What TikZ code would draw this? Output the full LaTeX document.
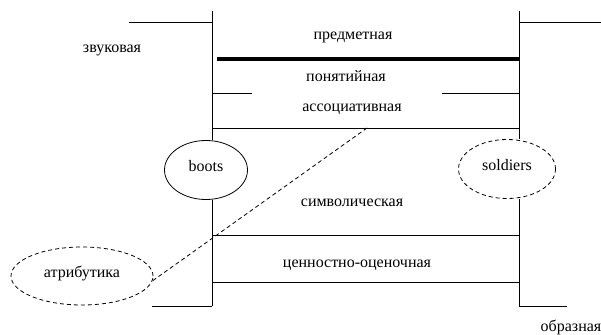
\documentclass[tikz,border=0pt]{standalone}
\usepackage{fontspec}
\setmainfont{Liberation Serif}
\usetikzlibrary{shapes.geometric,positioning}

\begin{document}
\begin{tikzpicture}[x=1pt, y=-1pt,
  txt/.style={font=\fontsize{16}{18}\selectfont, inner sep=0pt},
  oval/.style={ellipse, draw, line width=0.8pt, inner sep=0pt,
               text height=8pt, text depth=6pt,
               font=\fontsize{16}{18}\selectfont},
  dashoval/.style={oval, dash pattern=on 4pt off 3pt},
  rule/.style={line width=0.8pt},
  heavy/.style={line width=3.8pt},
  link/.style={line width=0.8pt, dash pattern=on 4pt off 3pt}
]
\useasboundingbox (0,0) rectangle (601,334);

% Frame corners
\coordinate (lt) at (212,11);
\coordinate (lb) at (212,306);
\coordinate (rt) at (519,11);
\coordinate (rb) at (519,306);

% Ovals
\node[oval, minimum width=83pt, minimum height=59pt] (boots) at (206,170) {boots};
\node[dashoval, minimum width=97pt, minimum height=59pt] (soldiers) at (507,169) {soldiers};
\node[dashoval, minimum width=142pt, minimum height=58pt] (attr) at (82,276) {атрибутика};

% Level labels
\node[txt] (zvuk)  at (112,50)  {звуковая};
\node[txt] (predm) at (353,37)  {предметная};
\node[txt] (ponat) at (346,76)  {понятийная};
\node[txt] (assoc) at (352,109) {ассоциативная};
\node[txt] (simv)  at (352,203) {символическая};
\node[txt] (cenn)  at (357,265) {ценностно-оценочная};
\node[txt] (obraz) at (571,327) {образная};

% Side verticals
\draw[rule] (lt) -- (lt |- boots.north);
\draw[rule] (lt |- boots.south) -- (lb);
\draw[rule] (rt) -- (rt |- soldiers.north);
\draw[rule] (rt |- soldiers.south) -- (rb);

% Outer ledges
\coordinate (zvend) at (129,22);
\coordinate (obend) at (567,306);
\draw[rule] (zvend) -- (zvend -| lt);
\draw[rule] (rt |- zvend) -- (601,22);
\draw[rule] (152,306) -- (lb);
\draw[rule] (rb) -- (obend);

% Inner levels
\draw[heavy] (217,59) -- (519,59);
\draw[rule] (212,93) -- (252,93);
\draw[rule] (442,93) -- (519,93);
\coordinate (cut) at (367,128);
\draw[rule] (212,128) -- (519,128);
\draw[rule] (212,235) -- (519,235);
\draw[rule] (212,282) -- (519,282);

% Dashed link
\draw[link] (cut) -- (attr.-4);
\end{tikzpicture}
\end{document}
